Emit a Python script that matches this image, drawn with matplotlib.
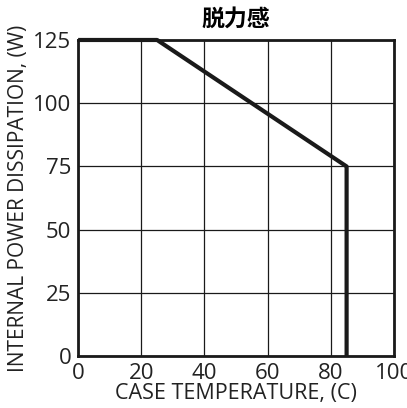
import matplotlib
matplotlib.use("Agg")
import matplotlib.pyplot as plt

# derating curve
case_temp = [0, 25, 85, 85]
power_w = [125, 125, 75, 0]

x_ticks = [0, 20, 40, 60, 80, 100]
y_ticks = [0, 25, 50, 75, 100, 125]

plt.rcParams['font.family'] = ['Open Sans', 'Noto Sans CJK SC', 'DejaVu Sans']

fig = plt.figure(figsize=(4.07, 4.08), dpi=100)
ax = fig.add_axes([0.192, 0.127, 0.776, 0.775])

ax.plot(case_temp, power_w, color='#1a1a1a', linewidth=3, solid_capstyle='butt', clip_on=False, zorder=3)

ax.set_xlim(0, 100)
ax.set_ylim(0, 125)
ax.set_xticks(x_ticks)
ax.set_yticks(y_ticks)
ax.grid(True, color='#1a1a1a', linewidth=0.9)
ax.tick_params(length=0, labelsize=16, pad=5, colors='#222222')
for s in ax.spines.values():
    s.set_linewidth(2)
    s.set_color('#1a1a1a')

ax.set_xlabel("CASE TEMPERATURE, (C)", fontsize=15.5, labelpad=-1, color='#222222')
ax.set_ylabel("INTERNAL POWER DISSIPATION, (W)", fontsize=15, labelpad=3, color='#222222')
ax.set_title("脱力感", fontsize=16.5, fontweight='bold', family=['Noto Sans CJK SC', 'DejaVu Sans'], pad=10)

fig.savefig("out.png", dpi=100)
